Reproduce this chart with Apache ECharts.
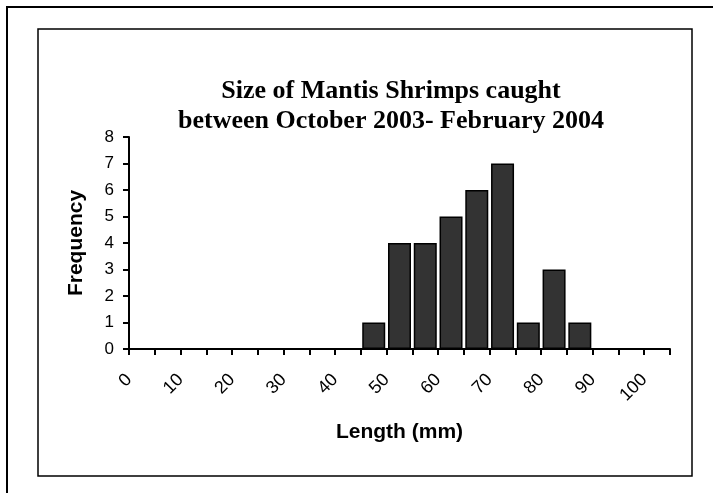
<!DOCTYPE html>
<html><head><meta charset="utf-8">
<script src="https://cdn.jsdelivr.net/npm/echarts@6/dist/echarts.min.js"></script>
<style>html,body{margin:0;padding:0;background:#fff}#c{width:713px;height:493px}</style>
</head><body><div id="c"></div>
<script>
const titleLines = ['Size of Mantis Shrimps caught', 'between October 2003- February 2004'];
const binStarts = [45, 50, 55, 60, 65, 70, 75, 80, 85];
const frequencies = [1, 4, 4, 5, 6, 7, 1, 3, 1];
const binWidth = 5;
const xTickLabels = [0, 10, 20, 30, 40, 50, 60, 70, 80, 90, 100];
const yTicks = [0, 1, 2, 3, 4, 5, 6, 7, 8];
const xName = 'Length (mm)';
const yName = 'Frequency';

const chart = echarts.init(document.getElementById('c'), null, {renderer: 'canvas'});
const barData = binStarts.map((s, i) => [s + binWidth / 2, frequencies[i]]);
chart.setOption({
  animation: false,
  backgroundColor: '#ffffff',
  title: {
    text: titleLines.join('\n'),
    left: 391, top: 76, textAlign: 'center', padding: 0,
    textStyle: {fontFamily: 'Liberation Serif', fontWeight: 'bold', fontSize: 26, lineHeight: 30, color: '#000'}
  },
  graphic: [
    {type: 'rect', shape: {x: 7, y: 7, width: 720, height: 500}, style: {fill: 'none', stroke: '#000', lineWidth: 2}, z: -1},
    {type: 'rect', shape: {x: 38, y: 29, width: 654, height: 447}, style: {fill: 'none', stroke: '#000', lineWidth: 1.5}, z: -1}
  ],
  grid: {left: 129, right: 43, top: 137, bottom: 144, containLabel: false},
  xAxis: {
    type: 'value', min: 0, max: 105, interval: binWidth,
    name: xName, nameLocation: 'middle', nameGap: 73,
    nameTextStyle: {fontFamily: 'Liberation Sans', fontWeight: 'bold', fontSize: 21, color: '#000'},
    axisLine: {show: true, lineStyle: {color: '#000', width: 2}},
    axisTick: {show: true, length: 6, inside: false, lineStyle: {color: '#000', width: 2}},
    splitLine: {show: false},
    axisLabel: {
      rotate: 45, margin: 28, fontFamily: 'Liberation Sans', fontSize: 18, color: '#000',
      showMaxLabel: true,
      formatter: v => xTickLabels.includes(v) ? String(v) : ''
    }
  },
  yAxis: {
    type: 'value', min: yTicks[0], max: yTicks[yTicks.length - 1], interval: 1,
    name: yName, nameLocation: 'middle', nameGap: 42, nameRotate: 90,
    nameTextStyle: {fontFamily: 'Liberation Sans', fontWeight: 'bold', fontSize: 21, color: '#000'},
    axisLine: {show: true, lineStyle: {color: '#000', width: 2}},
    axisTick: {show: true, length: 6, inside: false, lineStyle: {color: '#000', width: 2}},
    splitLine: {show: false},
    axisLabel: {margin: 15, fontFamily: 'Liberation Sans', fontSize: 17, color: '#000'}
  },
  series: [{
    type: 'bar', data: barData, barWidth: 23,
    itemStyle: {color: '#333333', borderColor: '#000', borderWidth: 1.5}
  }]
});
</script></body></html>
